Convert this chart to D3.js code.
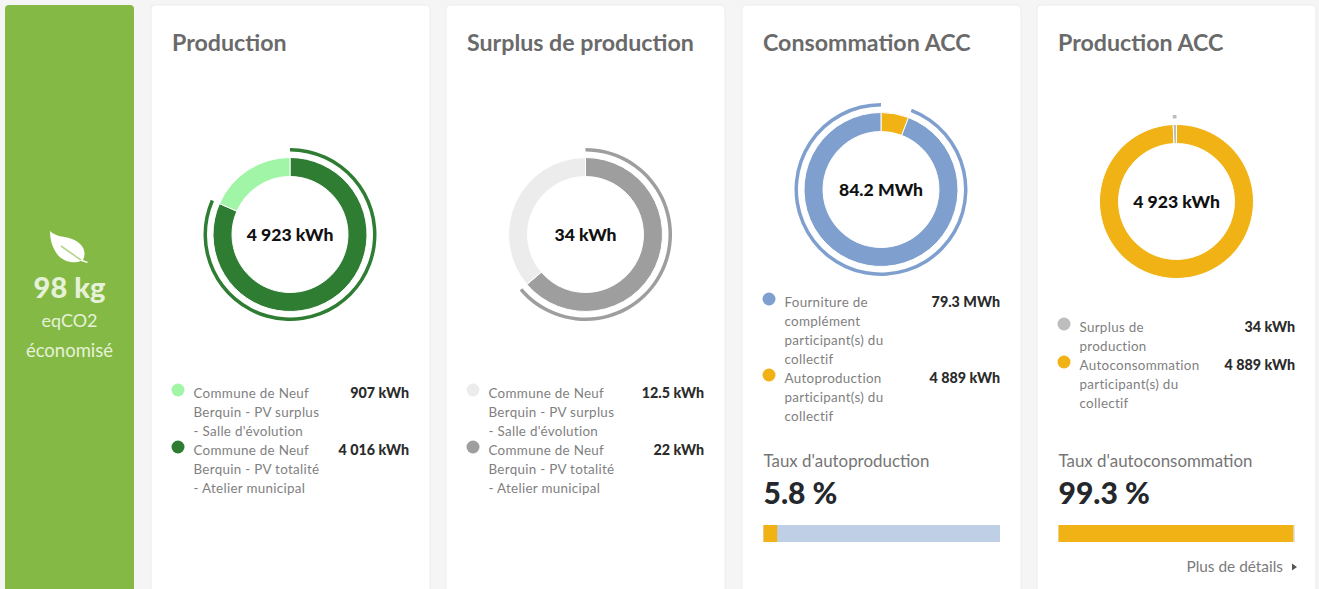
<!DOCTYPE html>
<html>
<head>
<meta charset="utf-8">
<script src="https://cdn.jsdelivr.net/npm/d3@7"></script>
<style>
  html, body { margin: 0; padding: 0; background: #f5f5f5; overflow: hidden; }
  text { font-family: Lato, "Noto Sans", sans-serif; }
  .title { font-size: 23.2px; font-weight: 700; fill: #6a6a6a; }
  .center { font-size: 17.6px; font-weight: 900; fill: #111; text-anchor: middle; dominant-baseline: central; }
  .legend { font-size: 13.4px; letter-spacing: 0.3px; fill: #7f7f7f; }
  .amount { font-size: 14.3px; font-weight: 900; fill: #2b2b2b; text-anchor: end; }
  .rateLabel { font-size: 16.9px; fill: #767676; }
  .rateValue { font-size: 30px; font-weight: 900; fill: #24282c; }
</style>
</head>
<body>
<div id="chart"></div>
<script>
const titles = ['Production', 'Surplus de production', 'Consommation ACC', 'Production ACC']
const totals = ['4 923 kWh', '34 kWh', '84.2 MWh', '4 923 kWh']

const sliceLabels = [
    [['Commune de Neuf', 'Berquin - PV surplus', "- Salle d'évolution"], ['Commune de Neuf', 'Berquin - PV totalité', '- Atelier municipal']],
    [['Commune de Neuf', 'Berquin - PV surplus', "- Salle d'évolution"], ['Commune de Neuf', 'Berquin - PV totalité', '- Atelier municipal']],
    [['Fourniture de', 'complément', 'participant(s) du', 'collectif'], ['Autoproduction', 'participant(s) du', 'collectif']],
    [['Surplus de', 'production'], ['Autoconsommation', 'participant(s) du', 'collectif']]
]
const sliceValues = [[907, 4016], [12.5, 22], [79300, 4889], [34, 4889]]
const sliceTexts = [['907 kWh', '4 016 kWh'], ['12.5 kWh', '22 kWh'], ['79.3 MWh', '4 889 kWh'], ['34 kWh', '4 889 kWh']]
const sliceColors = [['#a0f5a6', '#2e7d32'], ['#ececec', '#9e9e9e'], ['#7f9fcf', '#f0b214'], ['#bdbdbd', '#f0b214']]
const highlighted = [1, 1, 0, 0]

const rateLabels = ["Taux d'autoproduction", "Taux d'autoconsommation"]
const rateValues = [5.8, 99.3]
const rateColors = ['#bfcfe6', '#e4e4e4']

const width = 1319
const height = 589
const cardX = [151, 446, 742, 1037]
const cardW = 279
const centers = [[290, 234.5], [585.5, 234.5], [881, 189.5], [1176.5, 201.5]]
const legendY = [[393, 450], [393, 450], [302, 378], [327, 365]]
const lineH = 19

const svg = d3.select('#chart').append('svg')
    .attr('width', width)
    .attr('height', height)
    .style('display', 'block')

// green panel on the left
svg.append('rect')
    .attr('x', 5).attr('y', 5).attr('width', 129).attr('height', 600)
    .attr('rx', 4)
    .attr('fill', '#84b945')

const leaf = svg.append('g').attr('transform', 'translate(50, 231)')
leaf.append('path')
    .attr('d', 'M0,0 C6,6 14,5 22,8 C33,12 37,21 33,29 L38,31 L37,32 L31,30 C24,33 13,31 7,23 C2,16 0,8 0,0 Z')
    .attr('fill', '#fff')
leaf.append('path')
    .attr('d', 'M11,15 C18,20 25,25 31,29')
    .attr('fill', 'none')
    .attr('stroke', '#b5d78f')
    .attr('stroke-width', 1.6)

const panelText = [['98 kg', 298, 29, 900], ['eqCO2', 327, 18, 400], ['économisé', 357, 18.5, 400]]
svg.selectAll('.panelText')
    .data(panelText)
    .enter()
    .append('text')
    .attr('class', 'panelText')
    .attr('x', 69.5)
    .attr('y', d => d[1])
    .attr('text-anchor', 'middle')
    .attr('fill', '#e6f2d8')
    .style('font-size', d => d[2] + 'px')
    .style('font-weight', d => d[3])
    .text(d => d[0])

const arc = d3.arc().innerRadius(58).outerRadius(77)
const thinArc = d3.arc().innerRadius(83).outerRadius(86.5)
// slices run clockwise from the top in the reverse of the legend order
const pie = d3.pie().sort(null).value(d => d.value)

titles.forEach((title, i) => {
    const x = cardX[i]

    svg.append('rect')
        .attr('x', x).attr('y', 5).attr('width', cardW).attr('height', 600)
        .attr('rx', 4)
        .attr('fill', '#fff')
        .attr('stroke', '#ececec')

    svg.append('text')
        .attr('class', 'title')
        .attr('x', x + 21)
        .attr('y', 51)
        .text(title)

    const slices = sliceValues[i].map((v, j) => ({ value: v, color: sliceColors[i][j], index: j })).reverse()
    const g = svg.append('g').attr('transform', `translate(${centers[i]})`)

    g.selectAll('path.slice')
        .data(pie(slices))
        .enter()
        .append('path')
        .attr('class', 'slice')
        .attr('d', arc)
        .attr('fill', d => d.data.color)
        .attr('stroke', '#fff')
        .attr('stroke-width', 1)

    g.selectAll('path.thin')
        .data(pie(slices).filter(d => d.data.index === highlighted[i]))
        .enter()
        .append('path')
        .attr('class', 'thin')
        .attr('d', thinArc)
        .attr('fill', d => d.data.color)

    g.append('text').attr('class', 'center').text(totals[i])

    // legend
    sliceLabels[i].forEach((lines, j) => {
        const y = legendY[i][j]
        svg.append('circle')
            .attr('cx', x + 27)
            .attr('cy', y - 3)
            .attr('r', 6.5)
            .attr('fill', sliceColors[i][j])

        svg.selectAll(null)
            .data(lines)
            .enter()
            .append('text')
            .attr('class', 'legend')
            .attr('x', x + 42.5)
            .attr('y', (d, k) => y + 4.5 + k * lineH)
            .text(d => d)

        svg.append('text')
            .attr('class', 'amount')
            .attr('x', x + 258)
            .attr('y', y + 4.5)
            .text(sliceTexts[i][j])
    })
})

// rate blocks of the two ACC cards
rateValues.forEach((rate, i) => {
    const x = cardX[i + 2] + 21.5
    const xScale = d3.scaleLinear().domain([0, 100]).range([x, x + 236.5])

    svg.append('text').attr('class', 'rateLabel').attr('x', x).attr('y', 466.5).text(rateLabels[i])
    svg.append('text').attr('class', 'rateValue').attr('x', x).attr('y', 503.5).text(rate + ' %')

    svg.append('rect')
        .attr('x', xScale(0)).attr('y', 525)
        .attr('width', xScale(100) - xScale(0)).attr('height', 17)
        .attr('fill', rateColors[i])
    svg.append('rect')
        .attr('x', xScale(0)).attr('y', 525)
        .attr('width', xScale(rate) - xScale(0)).attr('height', 17)
        .attr('fill', '#f0b214')
})

svg.append('text')
    .attr('x', 1283)
    .attr('y', 572)
    .attr('text-anchor', 'end')
    .attr('fill', '#7b7b7b')
    .style('font-size', '15.4px')
    .text('Plus de détails')
svg.append('path')
    .attr('d', 'M1292,563.5 L1297,567 L1292,570.5 Z')
    .attr('fill', '#555')
</script>
</body>
</html>
